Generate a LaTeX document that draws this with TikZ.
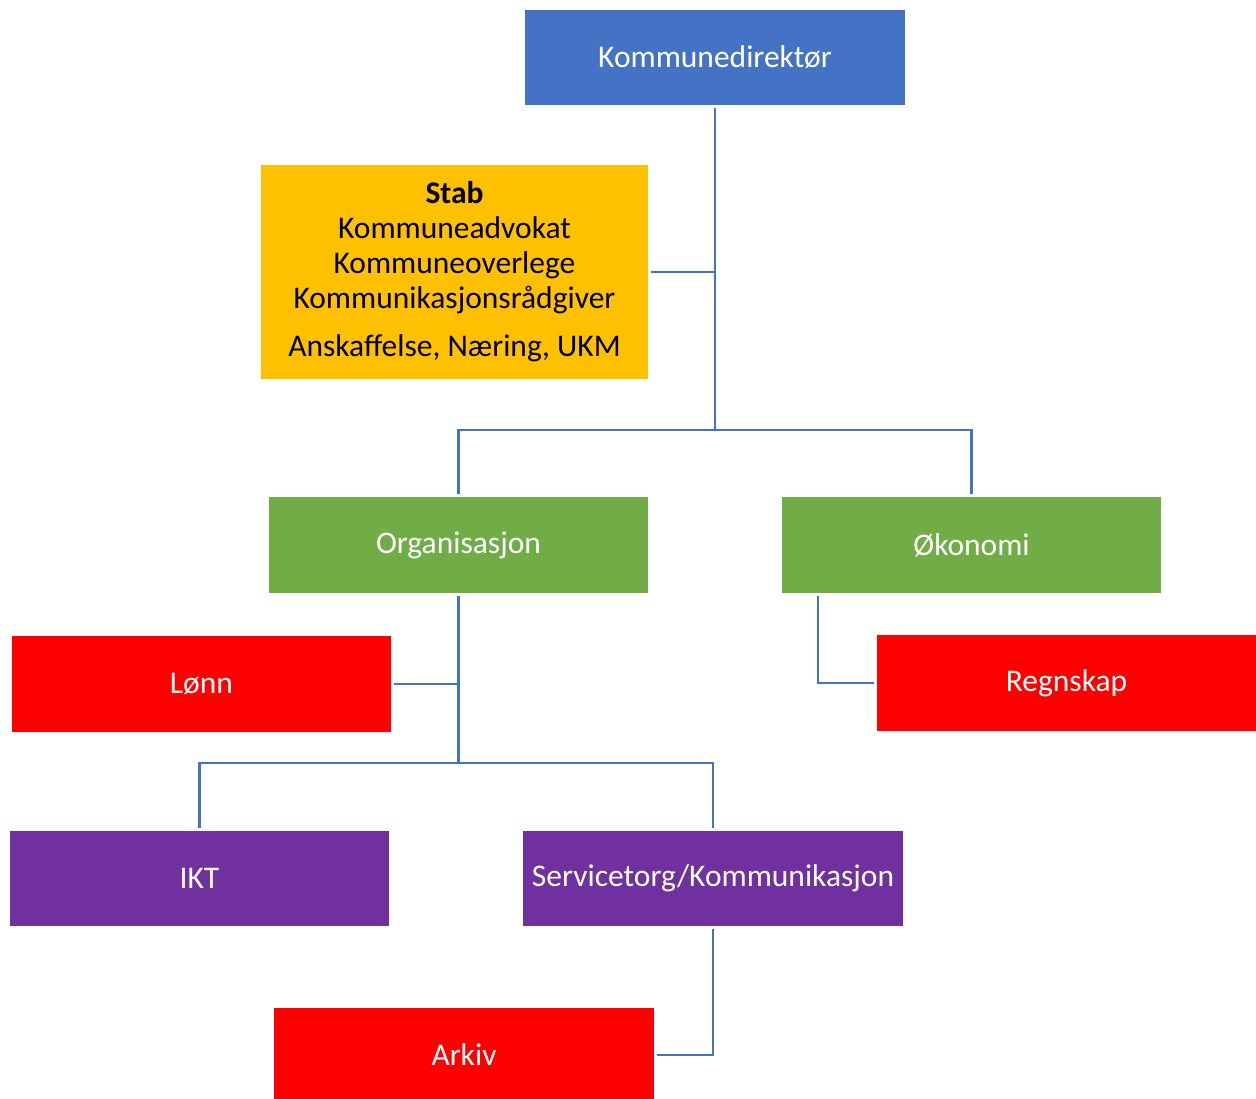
\documentclass[tikz,border=0pt]{standalone}
\usepackage{fontspec}
\setmainfont{Carlito}
\definecolor{kblue}{HTML}{4472C4}
\definecolor{kgold}{HTML}{FFC000}
\definecolor{kgreen}{HTML}{70AD47}
\definecolor{kred}{HTML}{FF0000}
\definecolor{kpurple}{HTML}{7030A0}
\definecolor{kline}{HTML}{4472C4}
\begin{document}
\begin{tikzpicture}[x=1pt,y=-1pt,
  box/.style={rectangle, inner sep=0pt, outer sep=3pt, minimum width=379pt, minimum height=95pt,
    text=white, font=\fontsize{31.5}{35}\selectfont, align=center},
  conn/.style={draw=kline, line width=2.2pt}]
\useasboundingbox (0,0) rectangle (1256,1099);
\fill[white] (0,0) rectangle (1256,1099);
\node[box, fill=kblue, minimum width=380pt] (kd) at (715,57.5) {Kommunedirektør};
\node[box, fill=kgold, text=black, minimum width=387pt, minimum height=214pt] (stab) at (454.5,272)
  {{\bfseries Stab}\\Kommuneadvokat\\Kommuneoverlege\\Kommunikasjonsrådgiver\\[13pt]Anskaffelse, Næring, UKM};
\node[box, fill=kgreen, minimum height=96pt] (org) at (458.5,545) {Organisasjon};
\node[box, fill=kgreen, minimum height=96pt] (oko) at (971.5,545) {Økonomi};
\node[box, fill=kred, minimum height=96pt] (lonn) at (201.5,684) {Lønn};
\node[box, fill=kred, minimum height=96pt] (regn) at (1066.5,683) {Regnskap};
\node[box, fill=kpurple] (ikt) at (199.5,878.5) {IKT};
\node[box, fill=kpurple, minimum width=380pt] (serv) at (713,878.5) {Servicetorg/Kommunikasjon};
\node[box, fill=kred, minimum width=380pt, minimum height=94pt] (arkiv) at (464,1055) {Arkiv};
\coordinate (j1) at (715,430);
\coordinate (j2) at (458.5,763);
\draw[conn] (kd) -- (j1);
\draw[conn] (stab.east) -- (stab.east -| j1);
\draw[conn] (org.north) |- (j1) -| (oko.north);
\draw[conn] (org) -- (j2);
\draw[conn] (lonn.east) -- (lonn.east -| j2);
\draw[conn] (ikt.north) |- (j2) -| (serv.north);
\draw[conn] ([xshift=-153.5pt]oko.south) |- (regn.west);
\draw[conn] (serv.south) |- (arkiv.east);
\end{tikzpicture}
\end{document}
